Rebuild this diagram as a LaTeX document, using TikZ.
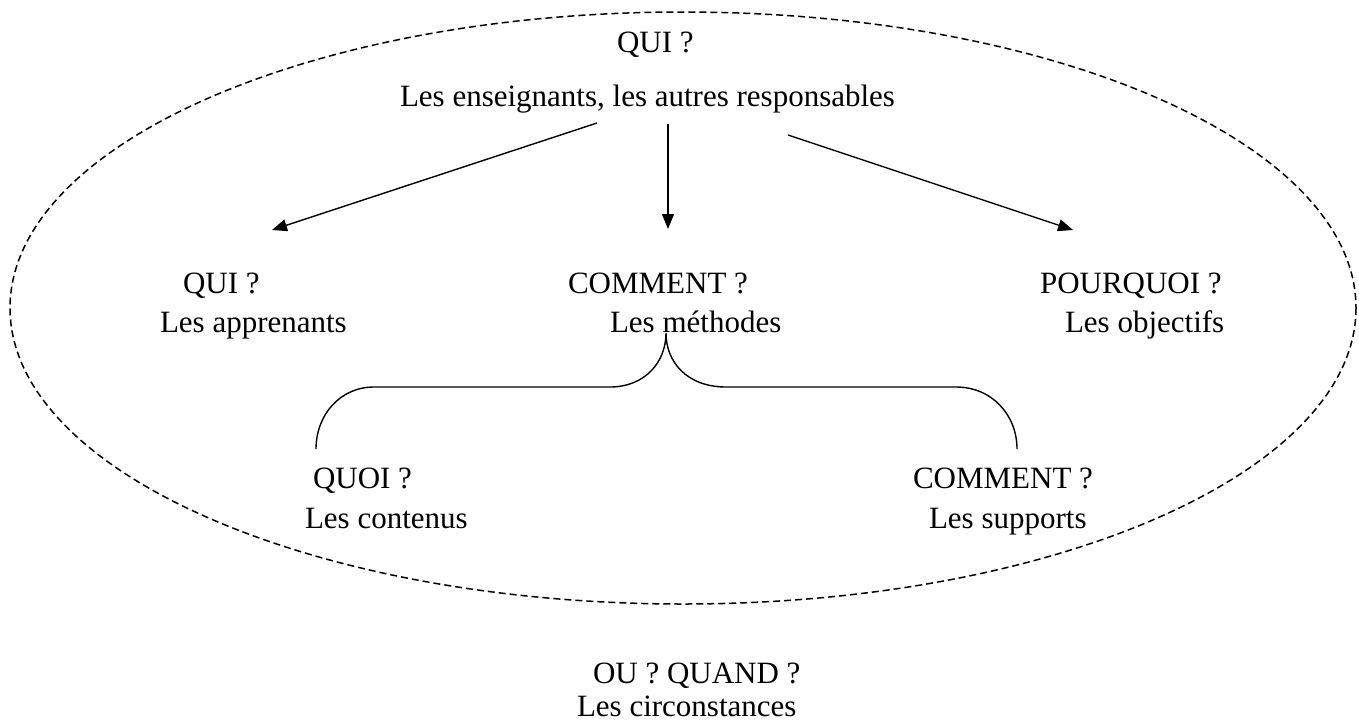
\documentclass[tikz,border=0pt]{standalone}
\usepackage{fontspec}
\setmainfont{Liberation Serif}
\usetikzlibrary{arrows.meta}
\tikzset{
  lbl/.style={anchor=base west, inner sep=0pt, outer sep=0pt, font=\fontsize{31}{36}\selectfont},
  conn/.style={line width=1.4pt, -{Triangle[length=15pt,width=12pt]}},
  brace/.style={line width=1.4pt},
  frame/.style={line width=1.5pt, dash pattern=on 7pt off 4pt}
}
\begin{document}
\begin{tikzpicture}[x=1pt,y=-1pt]
\useasboundingbox (0,0) rectangle (1359,726);
\draw[frame] (683,308) ellipse [x radius=673, y radius=296];

\node[lbl] (qui1) at (617,52) {QUI ?};
\node[lbl] (ens) at (400,106) {Les enseignants, les autres responsables};
\node[lbl] (qui2) at (183,293) {QUI ?};
\node[lbl] (app) at (160,332) {Les apprenants};
\node[lbl] (com1) at (568,293) {COMMENT ?};
\node[lbl] (meth) at (610,332) {Les méthodes};
\node[lbl] (pq) at (1040,293) {POURQUOI ?};
\node[lbl] (obj) at (1065,332) {Les objectifs};
\node[lbl] (quoi) at (313,488) {QUOI ?};
\node[lbl] (cont) at (305,528) {Les contenus};
\node[lbl] (com2) at (913,488) {COMMENT ?};
\node[lbl] (sup) at (929,528) {Les supports};
\node[lbl] (ou) at (593,683) {OU ? QUAND ?};
\node[lbl] (circ) at (577,716) {Les circonstances};

\coordinate (s1) at (597,123);
\coordinate (e1) at (272,230);
\coordinate (s2) at (668,124);
\coordinate (e2) at (668,229);
\coordinate (s3) at (788,135);
\coordinate (e3) at (1073,230);
\draw[conn] (s1) -- (e1);
\draw[conn] (s2) -- (e2);
\draw[conn] (s3) -- (e3);

\coordinate (cusp) at (666,333);
\draw[brace] (316,449) .. controls (316,415) and (340,387) .. (374,387)
  -- (610,387) .. controls (645,387) and (666,362) .. (cusp)
  .. controls (666,362) and (687,387) .. (726,387)
  -- (956,387) .. controls (992,387) and (1017,415) .. (1017,449);
\end{tikzpicture}
\end{document}
